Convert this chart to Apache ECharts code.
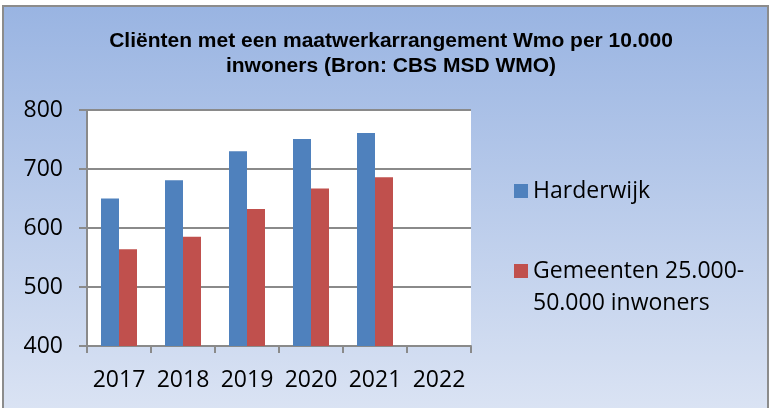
<!DOCTYPE html>
<html>
<head>
<meta charset="utf-8">
<script src="https://cdn.jsdelivr.net/npm/echarts@6/dist/echarts.min.js"></script>
<style>
  html, body { margin: 0; padding: 0; background: #fff; }
  #chart { width: 769px; height: 408px; }
</style>
</head>
<body>
<div id="chart"></div>
<script>
// Wmo maatwerkarrangementen per 10.000 inwoners
var years = ['2017', '2018', '2019', '2020', '2021', '2022'];
var harderwijk = [650, 681, 730, 751, 761, null];
var gemeenten = [564, 585, 632, 667, 686, null];
var yTicks = { min: 400, max: 800, step: 100 };
var titleText = 'Cliënten met een maatwerkarrangement Wmo per 10.000\ninwoners (Bron: CBS MSD WMO)';
var seriesNames = ['Harderwijk', 'Gemeenten 25.000-\n50.000 inwoners'];

var chart = echarts.init(document.getElementById('chart'), null, { renderer: 'canvas' });

var gridColor = '#8a8a8a';
var axisFont = { fontFamily: 'Open Sans', fontSize: 23, color: '#000' };
var legendFont = { fontFamily: 'Open Sans', fontSize: 23, lineHeight: 32, color: '#000' };

chart.setOption({
  backgroundColor: '#fff',
  animation: false,
  graphic: [{
    type: 'rect',
    z: -10,
    shape: { x: 3, y: 6, width: 765, height: 420 },
    style: {
      fill: new echarts.graphic.LinearGradient(0, 0, 0, 1, [
        { offset: 0, color: '#99b4e2' },
        { offset: 1, color: '#dde5f4' }
      ]),
      stroke: '#8c8c8c',
      lineWidth: 2
    }
  }],
  title: {
    text: titleText,
    left: 391,
    top: 29,
    padding: 0,
    textAlign: 'center',
    textStyle: {
      fontFamily: 'Liberation Sans',
      fontWeight: 'bold',
      fontSize: 21,
      lineHeight: 25,
      color: '#000'
    }
  },
  legend: [{
    data: [seriesNames[0]],
    left: 514,
    top: 175,
    padding: 0,
    itemWidth: 14,
    itemHeight: 14,
    icon: 'rect',
    textStyle: legendFont
  }, {
    data: [seriesNames[1]],
    left: 514,
    top: 223,
    padding: 0,
    itemWidth: 14,
    itemHeight: 14,
    icon: 'rect',
    // leading empty line keeps the marker beside the first line of the name
    formatter: function (name) { return '\n' + name; },
    textStyle: legendFont
  }],
  grid: {
    left: 87,
    top: 110,
    width: 384,
    height: 236,
    show: true,
    backgroundColor: '#fff',
    borderWidth: 0
  },
  xAxis: {
    type: 'category',
    data: years,
    axisLine: { show: true, lineStyle: { color: gridColor, width: 2 } },
    axisTick: { show: true, length: 7, lineStyle: { color: gridColor, width: 2 } },
    axisLabel: Object.assign({ margin: 23, interval: 0, hideOverlap: false }, axisFont)
  },
  yAxis: {
    type: 'value',
    min: yTicks.min,
    max: yTicks.max,
    interval: yTicks.step,
    axisLine: { show: true, lineStyle: { color: gridColor, width: 2 } },
    axisTick: { show: true, length: 8, lineStyle: { color: gridColor, width: 2 } },
    axisLabel: Object.assign({ margin: 24 }, axisFont),
    splitLine: { show: true, lineStyle: { color: gridColor, width: 2 } }
  },
  series: [{
    name: seriesNames[0],
    type: 'bar',
    data: harderwijk,
    barWidth: 18,
    barGap: '0%',
    itemStyle: { color: '#4f81bd' }
  }, {
    name: seriesNames[1],
    type: 'bar',
    data: gemeenten,
    barWidth: 18,
    itemStyle: { color: '#c0504d' }
  }]
});
</script>
</body>
</html>
